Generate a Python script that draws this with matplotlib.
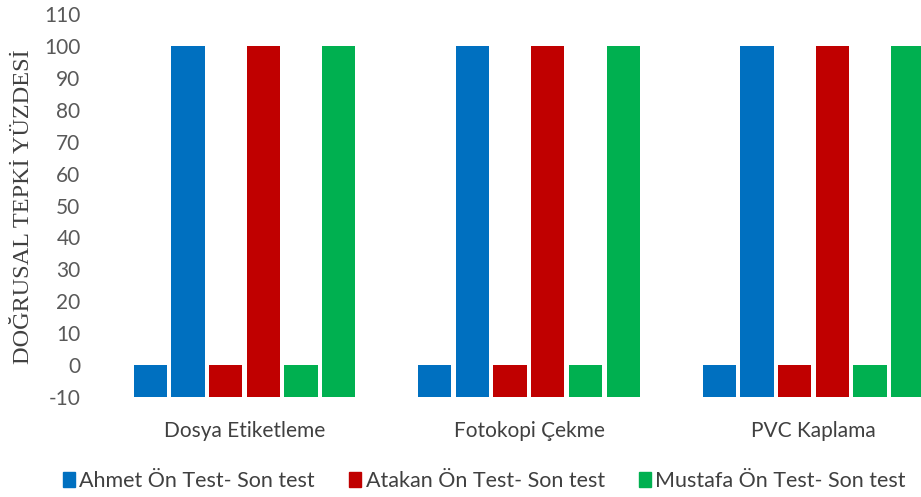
import numpy as np
import matplotlib.pyplot as plt
from matplotlib.patches import Patch

# Data
categories = ['Dosya Etiketleme', 'Fotokopi Çekme', 'PVC Kaplama']
people = ['Ahmet', 'Atakan', 'Mustafa']
on_test = {'Ahmet': [0, 0, 0], 'Atakan': [0, 0, 0], 'Mustafa': [0, 0, 0]}
son_test = {'Ahmet': [100, 100, 100], 'Atakan': [100, 100, 100], 'Mustafa': [100, 100, 100]}
yticks = list(range(-10, 111, 10))

colors = {'Ahmet': '#0070C0', 'Atakan': '#C00000', 'Mustafa': '#00B050'}
base = -10

plt.rcParams['font.family'] = ['Lato', 'DejaVu Sans']
plt.rcParams['axes.unicode_minus'] = False

fig = plt.figure(figsize=(9.21, 4.97), dpi=100)
ax = fig.add_axes([0.1357, 0.2012, 0.8643, 0.7706])

x = np.arange(len(categories))
pitch = 0.1325
width = 0.117
for i, p in enumerate(people):
    off_pre = (2 * i - 2.5) * pitch
    off_post = (2 * i - 1.5) * pitch
    ax.bar(x + off_pre, np.array(on_test[p]) - base, width, bottom=base, color=colors[p])
    ax.bar(x + off_post, np.array(son_test[p]) - base, width, bottom=base, color=colors[p])

ax.set_ylim(-10, 110)
ax.set_xlim(-0.42, 2.378)
ax.set_yticks(yticks)
ax.set_xticks(x)
ax.set_xticklabels(categories, fontsize=15, color='#404040')
ax.tick_params(axis='y', labelsize=15, labelcolor='#595959', length=0, pad=32)
ax.tick_params(axis='x', length=0, pad=17)
for s in ax.spines.values():
    s.set_visible(False)

fig.text(0.026, 0.585, 'DOĞRUSAL TEPKİ YÜZDESİ', rotation=90, ha='center', va='center',
         family='Liberation Serif', fontsize=17.5, color='#404040')

handles = [Patch(color=colors[p]) for p in people]
labels = [p + ' Ön Test- Son test' for p in people]
fig.legend(handles, labels, loc='center', bbox_to_anchor=(0.526, 0.033), ncol=3, frameon=False,
           fontsize=15.5, handlelength=0.55, handleheight=0.7, handletextpad=0.2, columnspacing=1.6,
           labelcolor='#404040')

fig.savefig('out.png', dpi=100, facecolor='white')
